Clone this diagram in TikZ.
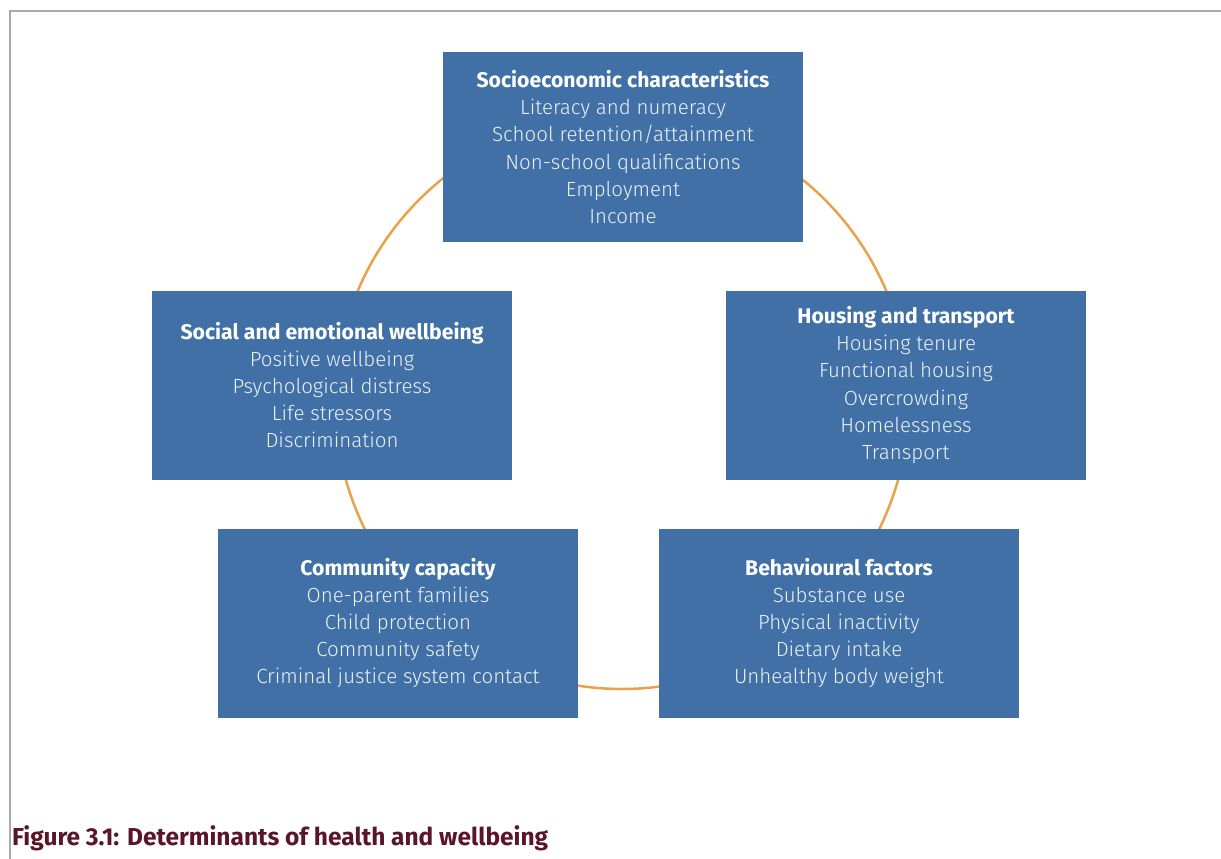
\documentclass[tikz,border=0pt]{standalone}
\usepackage{fontspec}
\setmainfont{Fira Sans}
\newfontfamily\lightfont{Fira Sans Light}
\usetikzlibrary{positioning}
\definecolor{boxblue}{RGB}{64,112,166}
\definecolor{ringorange}{RGB}{232,162,74}
\definecolor{framegray}{RGB}{170,170,170}
\definecolor{capred}{RGB}{90,22,40}
\definecolor{itemwhite}{RGB}{236,241,248}
\tikzset{
  detbox/.style={rectangle, fill=boxblue, minimum width=360pt, minimum height=189pt, inner sep=0pt, align=center, text=itemwhite, font=\lightfont\fontsize{20.5}{27.2}\selectfont}
}
\newcommand{\bt}[1]{{\fontspec{Fira Sans}\bfseries\fontsize{21.2}{27.2}\selectfont\color{white}#1}}
\begin{document}
\begin{tikzpicture}[x=1pt,y=-1pt]
\useasboundingbox (0,0) rectangle (1221,859);
\fill[white] (0,0) rectangle (1221,859);
\draw[framegray, line width=1.5pt] (10,859) -- (10,11) -- (1221,11);
\draw[ringorange, line width=2.5pt] (622,402.3) circle (286.7);
\node[detbox] (socio) at (623,147) {\bt{Socioeconomic characteristics}\\Literacy and numeracy\\School retention/attainment\\Non-school qualifications\\Employment\\Income};
\node[detbox] (social) at (332,385) {\bt{Social and emotional wellbeing}\\Positive wellbeing\\Psychological distress\\Life stressors\\Discrimination};
\node[detbox] (housing) at (906,385) {\bt{Housing and transport}\\Housing tenure\\Functional housing\\Overcrowding\\Homelessness\\Transport};
\node[detbox] (community) at (398,623) {\bt{Community capacity}\\One-parent families\\Child protection\\Community safety\\Criminal justice system contact};
\node[detbox] (behav) at (839,623) {\bt{Behavioural factors}\\Substance use\\Physical inactivity\\Dietary intake\\Unhealthy body weight};
\node[anchor=base west, inner sep=0pt, text=capred, font=\bfseries\fontsize{22}{26}\selectfont] (cap) at (12,845) {\resizebox{536pt}{!}{Figure 3.1: Determinants of health and wellbeing}};
\end{tikzpicture}
\end{document}
